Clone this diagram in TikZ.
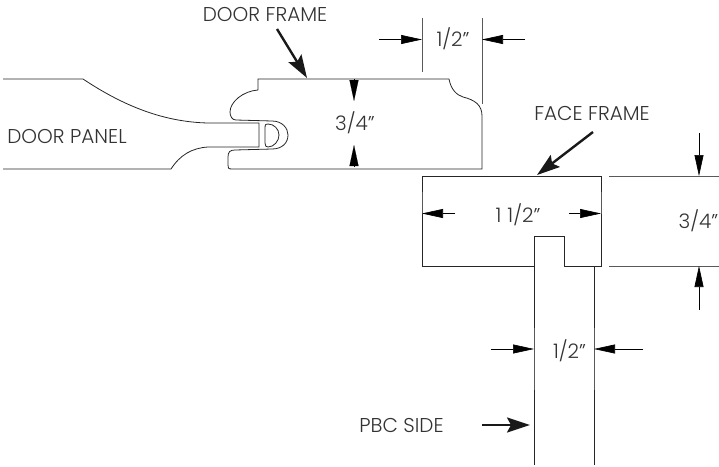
\documentclass[tikz,border=0pt]{standalone}
\usepackage{fontspec}
\setmainfont{Poppins}[UprightFont=* Light]
\usetikzlibrary{arrows.meta}
\tikzset{
	outline/.style={line width=0.8pt,black!85},
	extline/.style={line width=0.7pt,black!65},
	dimarrow/.style={line width=0.6pt,-{Triangle[length=21pt,width=9pt]}},
	tiponly/.style={line width=0.1pt,-{Triangle[length=21pt,width=9pt]}},
	leader/.style={line width=2.4pt,black!90,-{Stealth[length=23pt,width=15pt,inset=4pt]}},
	label/.style={font=\fontsize{20}{20}\selectfont,black!80,inner sep=0pt}
}
\begin{document}
\begin{tikzpicture}[x=1pt,y=-1pt]
	\useasboundingbox (0,0) rectangle (719,466);
	\draw[outline] (3,79) -- (83,79) .. controls (125,107) and (165,122) .. (208,123) -- (259,123) -- (259,147) -- (208,147) .. controls (192,148) and (180,155) .. (171,169) -- (3,169);
	\draw[outline] (258,90) -- (258,79) -- (449,79) .. controls (451,90) and (457,95) .. (463,97) .. controls (475,100) and (482,105) .. (482,116) -- (482,169) -- (232,169) .. controls (228,169) and (228,168) .. (228,165) -- (228,157) .. controls (228,152) and (230,150) .. (235,150) -- (272,149) .. controls (282,149) and (288,143) .. (288,135) .. controls (288,128) and (282,121) .. (272,121) -- (236,120) .. controls (232,120) and (230,116) .. (230,112) .. controls (230,102) and (243,91) .. (258,90);
	\draw[outline] (265,128) .. controls (265,124) and (266,124) .. (268,124) .. controls (274,124) and (279,129) .. (279,135) .. controls (279,141) and (274,147) .. (268,147) .. controls (266,147) and (265,146) .. (265,143) -- cycle;
	\draw[outline] (422,176) rectangle (601,266);
	\draw[outline,fill=white] (534,465) -- (534,236) -- (564,236) -- (564,266);
	\draw[outline] (594,266) -- (594,465);
	\draw[extline] (422,18) -- (422,72);
	\draw[extline] (482,18) -- (482,104);
	\draw[extline] (422,192) -- (422,214);
	\draw[extline] (601,192) -- (601,214);
	\draw[extline] (609,176) -- (719,176);
	\draw[extline] (609,266) -- (719,266);
	\draw[extline] (534,328) -- (534,390);
	\draw[extline] (594,328) -- (594,390);
	\node[label] (doorframe) at (265,14) {DOOR FRAME};
	\node[label] (doorpanel) at (67,136) {DOOR PANEL};
	\node[label] (faceframe) at (592,113) {FACE FRAME};
	\node[label] (pbcside) at (401.5,425) {PBC SIDE};
	\node[label] (halftop) at (453,39) {1/2"};
	\node[label] (thickdoor) at (355,123) {3/4"};
	\node[label] (widthface) at (518,215) {1\kern6pt 1/2"};
	\node[label] (thickface) at (698.5,220.5) {3/4"};
	\node[label] (halfside) at (569.5,351) {1/2"};
	\coordinate (a1) at (379,39.5);
	\coordinate (a2) at (422,39.5);
	\coordinate (b1) at (525,39.5);
	\coordinate (b2) at (482,39.5);
	\coordinate (c1) at (354,79);
	\coordinate (c2) at (354,101);
	\coordinate (d1) at (354,167);
	\coordinate (d2) at (354,145);
	\coordinate (e1) at (455,213.5);
	\coordinate (e2) at (422,213.5);
	\coordinate (f1) at (569,213.5);
	\coordinate (f2) at (601,213.5);
	\coordinate (g1) at (699,133);
	\coordinate (g2) at (699,176);
	\coordinate (h1) at (699,310);
	\coordinate (h2) at (699,266);
	\coordinate (i1) at (491,349);
	\coordinate (i2) at (534,349);
	\coordinate (j1) at (643,349);
	\coordinate (j2) at (594,349);
	\coordinate (k1) at (277,29);
	\coordinate (k2) at (307,78);
	\coordinate (l1) at (593,132);
	\coordinate (l2) at (537,175);
	\coordinate (m1) at (482,425);
	\coordinate (m2) at (530,425);
	\draw[dimarrow] (a1) -- (a2);
	\draw[dimarrow] (b1) -- (b2);
	\draw[tiponly] (c1) -- (c2);
	\draw[tiponly] (d1) -- (d2);
	\draw[dimarrow] (e1) -- (e2);
	\draw[dimarrow] (f1) -- (f2);
	\draw[dimarrow] (g1) -- (g2);
	\draw[dimarrow] (h1) -- (h2);
	\draw[dimarrow] (i1) -- (i2);
	\draw[dimarrow] (j1) -- (j2);
	\draw[leader] (k1) -- (k2);
	\draw[leader] (l1) -- (l2);
	\draw[leader] (m1) -- (m2);
\end{tikzpicture}
\end{document}
